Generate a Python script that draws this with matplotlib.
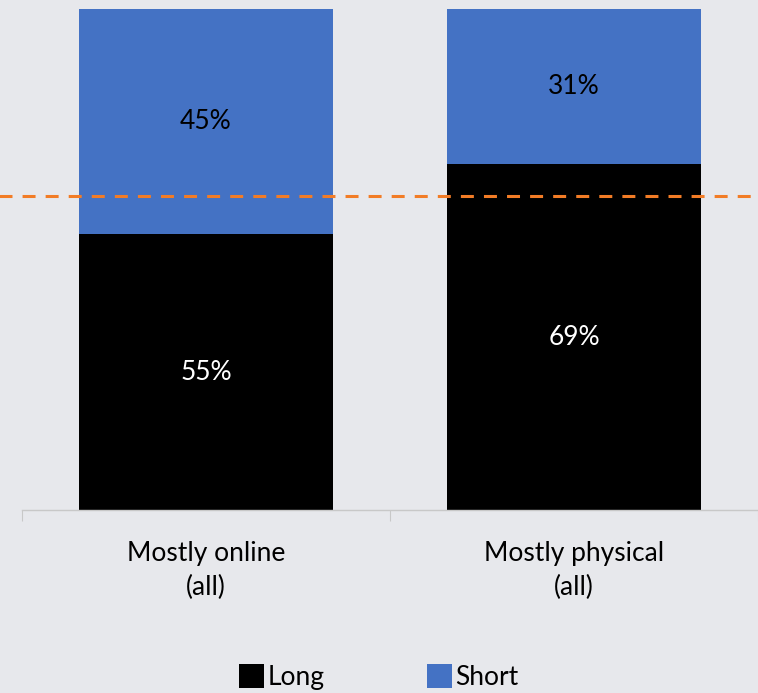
import matplotlib.pyplot as plt
from matplotlib.patches import Patch

categories = ['Mostly online\n(all)', 'Mostly physical\n(all)']
long_vals = [55, 69]
short_vals = [45, 31]
reference_line = 62.7

plt.rcParams['font.family'] = ['Lato', 'DejaVu Sans']

bg = '#E7E8EC'
fig = plt.figure(figsize=(7.58, 6.93), dpi=100, facecolor=bg)
ax = fig.add_axes([22 / 758, 1 - 510 / 693, 736 / 758, 501 / 693], facecolor=bg)

x = range(len(categories))
ax.bar(x, long_vals, width=0.69, color='#000000', label='Long', zorder=2)
ax.bar(x, short_vals, width=0.69, bottom=long_vals, color='#4472C4', label='Short', zorder=2)

for i in x:
    ax.text(i, long_vals[i] / 2, f'{long_vals[i]}%', ha='center', va='center',
            color='white', fontsize=19, zorder=3)
    ax.text(i, long_vals[i] + short_vals[i] / 2, f'{short_vals[i]}%', ha='center', va='center',
            color='black', fontsize=19, zorder=3)

# dashed reference line across the whole width
ax.axhline(reference_line, xmin=-0.05, xmax=1.05, color='#F27C26', linewidth=2.2,
           dashes=(4.25, 3.3), clip_on=False, zorder=4)

ax.set_xlim(-0.5, 1.5)
ax.set_ylim(0, 100)
ax.set_yticks([])
for s in ['top', 'right', 'left']:
    ax.spines[s].set_visible(False)
ax.spines['bottom'].set_color('#C8C8C8')
ax.spines['bottom'].set_linewidth(1)

ax.set_xticks([-0.5, 0.5, 1.5], minor=False)
ax.set_xticklabels([])
ax.tick_params(axis='x', which='major', length=8, color='#C8C8C8', direction='out')
ax.set_xticks(list(x), minor=True)
ax.set_xticklabels(categories, minor=True, fontsize=19, linespacing=1.45)
ax.tick_params(axis='x', which='minor', length=0, pad=22)

handles = [Patch(facecolor='#000000'), Patch(facecolor='#4472C4')]
fig.legend(handles, ['Long', 'Short'], loc='center', bbox_to_anchor=(0.5, 1 - 677 / 693),
           ncol=2, frameon=False, fontsize=19, handlelength=0.95, handleheight=1.0,
           handletextpad=0.12, columnspacing=3.9)

fig.savefig('out.png', dpi=100, facecolor=bg)
